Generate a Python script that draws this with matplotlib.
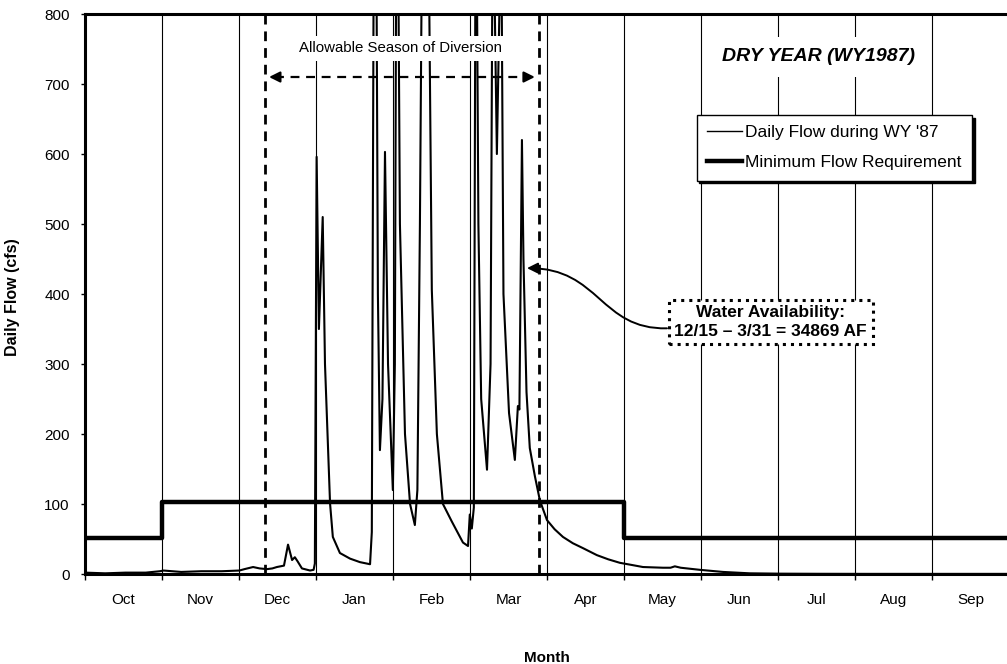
import matplotlib
matplotlib.use("Agg")
import matplotlib.pyplot as plt
from matplotlib.patches import FancyArrowPatch
from matplotlib.path import Path

plt.rcParams["font.family"] = ["Liberation Sans", "DejaVu Sans"]

# water-year months (Oct 1986 - Sep 1987)
months = ["Oct", "Nov", "Dec", "Jan", "Feb", "Mar", "Apr", "May", "Jun", "Jul", "Aug", "Sep"]
y_ticks = [0, 100, 200, 300, 400, 500, 600, 700, 800]

# daily flow (day of water year, cfs)
flow_days = [0, 8, 16, 24, 29.6, 31, 38, 46, 54, 61, 63, 66.4, 69, 71.9, 74, 75.8,
             78.6, 80.2, 81.8, 82.9, 84, 85.7, 88.9, 90.3, 90.8, 91.5, 92.4, 93.9,
             94.8, 96.8, 97.9, 100.7, 104.7, 108.6, 112.6, 113.3, 114.5, 115.7,
             116.5, 117.5, 118.5, 119.7, 121.6, 122.4, 123.2, 124.4, 126.4, 128.4,
             130.3, 131.3, 132.3, 134.3, 137.0, 139.0, 141.4, 144.9, 149.3, 151.3,
             152.0, 152.8, 153.6, 154.4, 155.4, 156.5, 158.8, 160.2, 161.1, 162.7,
             164.4, 165.3, 167.5, 169.8, 171.0, 171.6, 172.6, 173.2, 174.4, 175.7,
             177.7, 179.7, 182.5, 185.5, 188.8, 192.7, 196.7, 202.2, 206.7, 211.3,
             215.9, 220.4, 228.3, 231.3, 233.0, 235.3, 242.9, 252.0, 262.6, 274.5,
             290, 310, 330, 350, 364]
flow_cfs = [2, 1, 2, 2, 4, 5, 3, 4, 4, 5, 7, 10, 8, 7, 8, 10,
            12, 42, 20, 24, 18, 8, 5, 6, 15, 596, 350, 510,
            300, 101, 53, 30, 22, 17, 14, 60, 1400, 400,
            177, 250, 603, 300, 120, 300, 1200, 500, 200, 100,
            70, 120, 500, 1500, 406, 200, 100, 75, 45, 40,
            85, 65, 95, 1100, 500, 250, 149, 300, 1000, 600,
            950, 400, 230, 163, 240, 235, 620, 450, 260, 180,
            140, 105, 77, 64, 53, 44, 37, 27, 21, 16,
            13, 10, 9, 9, 11, 9, 6, 3, 1, 0.5,
            0.3, 0.2, 0.2, 0.2, 0.2]

# minimum flow requirement (step)
min_days = [0, 30.4, 30.4, 212.9, 212.9, 365]
min_cfs = [51, 51, 103, 103, 51, 51]

# allowable season of diversion (12/15 - 3/31)
season_start = 71.1
season_end = 179.3

fig = plt.figure(figsize=(10.07, 6.64), dpi=100)
ax = fig.add_axes([0.0844, 0.1355, 0.9176, 0.8434])

month_len = 365 / 12
bounds = [i * month_len for i in range(13)]
centers = [(i + 0.5) * month_len for i in range(12)]

# month gridlines
for b in bounds[1:-1]:
    ax.axvline(b, color="black", lw=0.8, zorder=1)

flow_line, = ax.plot(flow_days, flow_cfs, color="black", lw=1.5, zorder=3,
                     label="Daily Flow during WY '87")
min_line, = ax.plot(min_days, min_cfs, color="black", lw=3.2, zorder=4,
                    label="Minimum Flow Requirement")

# diversion season
for d in (season_start, season_end):
    ax.axvline(d, color="black", lw=2, ls=(0, (3.5, 2.5)), zorder=5)
ax.plot([season_start + 4, season_end - 4], [710, 710], color="black", lw=1.6,
        ls=(0, (4, 3)), zorder=5)
ax.annotate("", xy=(season_start + 0.5, 710), xytext=(season_start + 6, 710),
            arrowprops=dict(arrowstyle="-|>", color="black", lw=1.6, mutation_scale=16))
ax.annotate("", xy=(season_end - 0.5, 710), xytext=(season_end - 6, 710),
            arrowprops=dict(arrowstyle="-|>", color="black", lw=1.6, mutation_scale=16))
ax.text(124.8, 751, "Allowable Season of Diversion", ha="center", va="center",
        fontsize=10.8, zorder=6,
        bbox=dict(boxstyle="square,pad=0.35", fc="white", ec="none"))

ax.text(289.9, 739, "DRY YEAR (WY1987)", ha="center", va="center", zorder=6,
        fontsize=14, fontweight="bold", style="italic",
        bbox=dict(boxstyle="square,pad=0.6", fc="white", ec="none"))

# water availability note
ax.text(270.9, 360, "Water Availability:\n12/15 \u2013 3/31 = 34869 AF", ha="center",
        va="center", fontsize=12.5, fontweight="bold", linespacing=1.3, zorder=7,
        bbox=dict(boxstyle="square,pad=0.32", fc="white", ec="black", ls=":", lw=2.2))
curve = Path([(229.9, 351), (203.4, 349), (203.4, 437), (174.6, 437)],
             [Path.MOVETO, Path.CURVE4, Path.CURVE4, Path.CURVE4])
ax.add_patch(FancyArrowPatch(path=curve, arrowstyle="-|>", mutation_scale=16,
                             color="black", lw=1.4, zorder=7))

ax.set_xlim(0, 365)
ax.set_ylim(0, 800)
ax.set_yticks(y_ticks)
ax.set_xticks(bounds)
ax.set_xticklabels([])
ax.set_xticks(centers, minor=True)
ax.set_xticklabels(months, minor=True)
ax.tick_params(axis="x", which="major", length=4, width=1, direction="out")
ax.tick_params(axis="x", which="minor", length=0, pad=14, labelsize=11)
ax.tick_params(axis="y", length=3, width=1, pad=8, labelsize=11)

for side in ["left", "top", "bottom", "right"]:
    ax.spines[side].set_linewidth(2.2)

ax.set_ylabel("Daily Flow (cfs)", fontsize=11.5, fontweight="bold")
ax.yaxis.set_label_coords(-0.0705, 0.495)
ax.set_xlabel("Month", fontsize=11, fontweight="bold")
ax.xaxis.set_label_coords(0.5, -0.1375)

leg = ax.legend(handles=[flow_line, min_line], loc="upper left",
                bbox_to_anchor=(0.662, 0.82), borderaxespad=0, fontsize=12.5,
                fancybox=False, framealpha=1, edgecolor="black",
                shadow={"color": "black", "alpha": 1}, handlelength=2.0,
                handletextpad=0.2, labelspacing=0.85, borderpad=0.6)
leg.get_frame().set_linewidth(1)
leg.get_lines()[0].set_linewidth(1)
leg.get_lines()[1].set_linewidth(3.2)

fig.savefig("out.png", dpi=100)
